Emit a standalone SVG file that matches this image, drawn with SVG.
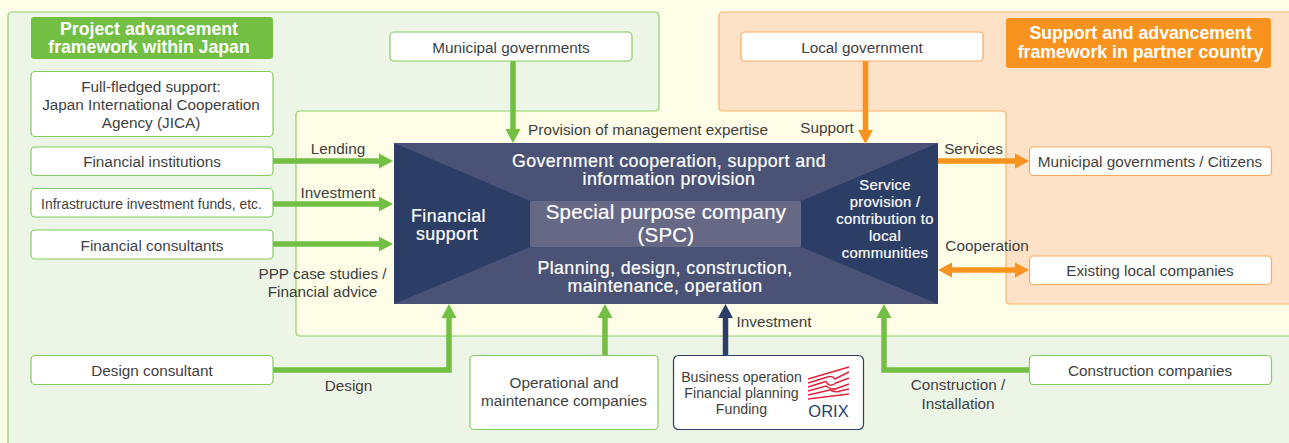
<svg xmlns="http://www.w3.org/2000/svg" width="1289" height="443" viewBox="0 0 1289 443">
<style>
text{font-family:"Liberation Sans",Arial,sans-serif;text-anchor:middle}
.t{font-size:15.300px;fill:#3f3f3f}
.l{font-size:15.300px;fill:#3f3f3f}
.w{fill:#fff;font-size:17.800px;letter-spacing:.42px;stroke:#fff;stroke-width:.2}
.h{fill:#fff;font-size:17.700px;font-weight:bold}
.g{fill:#fff;stroke:#86cb63;stroke-width:1.2}
.o{fill:#fff;stroke:#f9a95a;stroke-width:1.2}
.ag{fill:none;stroke:#72bf44;stroke-width:5.5}
.ao{fill:none;stroke:#f7931e;stroke-width:5.5}
.an{fill:none;stroke:#2b3f68;stroke-width:5.5}
</style>
<defs>
<marker id="mg" markerUnits="userSpaceOnUse" markerWidth="15" markerHeight="16" refX="4" refY="8" orient="auto"><path d="M0 0.5L14 8L0 15.5z" fill="#72bf44"/></marker>
<marker id="mo" markerUnits="userSpaceOnUse" markerWidth="15" markerHeight="16" refX="4" refY="8" orient="auto-start-reverse"><path d="M0 0.5L14 8L0 15.5z" fill="#f7931e"/></marker>
<marker id="mn" markerUnits="userSpaceOnUse" markerWidth="15" markerHeight="16" refX="4" refY="8" orient="auto"><path d="M0 0.5L14 8L0 15.5z" fill="#2b3f68"/></marker>
</defs>
<rect width="1289" height="443" fill="#fefde8"/>
<g id="panels">
<path d="M8 450V16Q8 12 12 12H655Q659 12 659 16V107Q659 111 655 111H300Q296 111 296 115V332Q296 336 300 336H1300V450z" fill="#edf5e6" stroke="#8fd06f" stroke-width="1.2"/>
<path d="M1300 12H723Q719 12 719 16V107Q719 111 723 111H1002Q1006 111 1006 115V300Q1006 304 1010 304H1300z" fill="#fee2c7" stroke="#fbb26b" stroke-width="1.2"/>
</g>
<g id="spc">
<rect x="394" y="143" width="544" height="161" fill="#4a5375"/>
<path d="M394 143L530 201V247L394 304z M938 143L801 201V247L938 304z" fill="#2c3e66"/>
<rect x="530" y="201" width="271" height="46" rx="2" fill="#666885"/>
<text class="w"><tspan x="669" y="167">Government cooperation, support and</tspan><tspan x="669" y="185">information provision</tspan></text>
<text class="w" style="font-size:20.500px;letter-spacing:.2px"><tspan x="666" y="219">Special purpose company</tspan><tspan x="666" y="242">(SPC)</tspan></text>
<text class="w"><tspan x="665" y="274">Planning, design, construction,</tspan><tspan x="665" y="292">maintenance, operation</tspan></text>
<text class="w"><tspan x="448.500" y="222">Financial</tspan><tspan x="447" y="240">support</tspan></text>
<text class="w" style="font-size:14.800px;letter-spacing:.3px"><tspan x="885" y="190">Service</tspan><tspan x="885" y="207">provision /</tspan><tspan x="885" y="224">contribution to</tspan><tspan x="885" y="241">local</tspan><tspan x="885" y="258">communities</tspan></text>
</g>
<g id="connectors">
<path class="ag" d="M273 161H383" marker-end="url(#mg)"/>
<path class="ag" d="M273 204H383" marker-end="url(#mg)"/>
<path class="ag" d="M273 244H383" marker-end="url(#mg)"/>
<path class="ag" d="M513 61V133" marker-end="url(#mg)"/>
<path class="ag" d="M273 370H449V314" marker-end="url(#mg)"/>
<path class="ag" d="M605 355V314" marker-end="url(#mg)"/>
<path class="an" d="M725.500 355V314" marker-end="url(#mn)"/>
<path class="ag" d="M1029 370H884V314" marker-end="url(#mg)"/>
<path class="ao" d="M865.500 61V134" marker-end="url(#mo)"/>
<path class="ao" d="M938 161H1019" marker-end="url(#mo)"/>
<path class="ao" d="M948 270H1019" marker-start="url(#mo)" marker-end="url(#mo)"/>
</g>
<g id="labels">
<text class="l" x="338" y="154">Lending</text>
<text class="l" x="338" y="198">Investment</text>
<text class="l" x="322.500" y="279">PPP case studies /</text>
<text class="l" x="322.500" y="297">Financial advice</text>
<text class="l" x="348.500" y="391">Design</text>
<text class="l" x="648" y="135">Provision of management expertise</text>
<text class="l" x="827" y="133">Support</text>
<text class="l" x="973.500" y="154">Services</text>
<text class="l" x="987" y="251">Cooperation</text>
<text class="l" x="774" y="327">Investment</text>
<text class="l" x="958" y="390">Construction /</text>
<text class="l" x="958" y="409">Installation</text>
</g>
<g id="title-japan"><rect x="31" y="17" width="242" height="42" rx="3" fill="#72bf44"/><text class="h"><tspan x="149" y="34.500">Project advancement</tspan><tspan x="149" y="52.500">framework within Japan</tspan></text></g>
<g id="title-partner"><rect x="1006" y="18" width="265" height="50" rx="3" fill="#f7931e"/><text class="h"><tspan x="1140.500" y="38.500">Support and advancement</tspan><tspan x="1140.500" y="58">framework in partner country</tspan></text></g>
<g id="jica"><rect class="g" x="31" y="71.500" width="242" height="65" rx="4"/><text class="t"><tspan x="151" y="92">Full-fledged support:</tspan><tspan x="151" y="110">Japan International Cooperation</tspan><tspan x="151" y="128">Agency (JICA)</tspan></text></g>
<g id="financial-institutions"><rect class="g" x="31" y="147" width="242" height="28.500" rx="4"/><text class="t" x="152" y="166.500">Financial institutions</text></g>
<g id="infrastructure-funds"><rect class="g" x="31" y="188.500" width="242" height="28.500" rx="4"/><text class="t" x="151.500" y="208.500" style="font-size:13.900px">Infrastructure investment funds, etc.</text></g>
<g id="financial-consultants"><rect class="g" x="31" y="230" width="242" height="29" rx="4"/><text class="t" x="152" y="250.500">Financial consultants</text></g>
<g id="design-consultant"><rect class="g" x="31" y="355.500" width="242" height="29" rx="4"/><text class="t" x="152" y="375.500">Design consultant</text></g>
<g id="municipal-governments"><rect class="g" x="390" y="32" width="242" height="29" rx="4"/><text class="t" x="511" y="52.500">Municipal governments</text></g>
<g id="local-government"><rect class="o" x="741" y="32" width="242" height="29" rx="4"/><text class="t" x="862" y="52.500">Local government</text></g>
<g id="municipal-citizens"><rect class="o" x="1029.500" y="147" width="242" height="28.500" rx="4"/><text class="t" x="1150" y="166.500">Municipal governments / Citizens</text></g>
<g id="existing-local"><rect class="o" x="1029.500" y="256" width="242" height="28.500" rx="4"/><text class="t" x="1150" y="275.500">Existing local companies</text></g>
<g id="construction"><rect class="g" x="1029.500" y="355.500" width="242" height="29" rx="4"/><text class="t" x="1150" y="375.500">Construction companies</text></g>
<g id="operations"><rect class="g" x="470" y="355.500" width="188" height="74" rx="4"/><text class="t"><tspan x="564" y="388">Operational and</tspan><tspan x="564" y="406">maintenance companies</tspan></text></g>
<g id="orix"><rect x="673.500" y="355.500" width="190" height="74" rx="5" fill="#fff" stroke="#2b3f68" stroke-width="1.2"/>
<text class="t" style="font-size:14.200px"><tspan x="741.500" y="382">Business operation</tspan><tspan x="741.500" y="398">Financial planning</tspan><tspan x="741.500" y="414">Funding</tspan></text>
<g fill="none" stroke="#e2243f" stroke-width="1.500">
<path d="M808 379L849 367"/><path d="M808 383L826 377.500Q832 375 835 379L849 372"/><path d="M808 387L826 381.500Q829 388 836 383L849 378"/><path d="M808 391L826 386Q832 391 838 388L849 384"/><path d="M808 395L830 390Q836 393 840 391L849 389"/><path d="M808 399L849 394"/>
</g>
<text x="828.500" y="416.500" style="font-size:16.500px;fill:#2b3f68">ORIX</text>
</g>
</svg>
